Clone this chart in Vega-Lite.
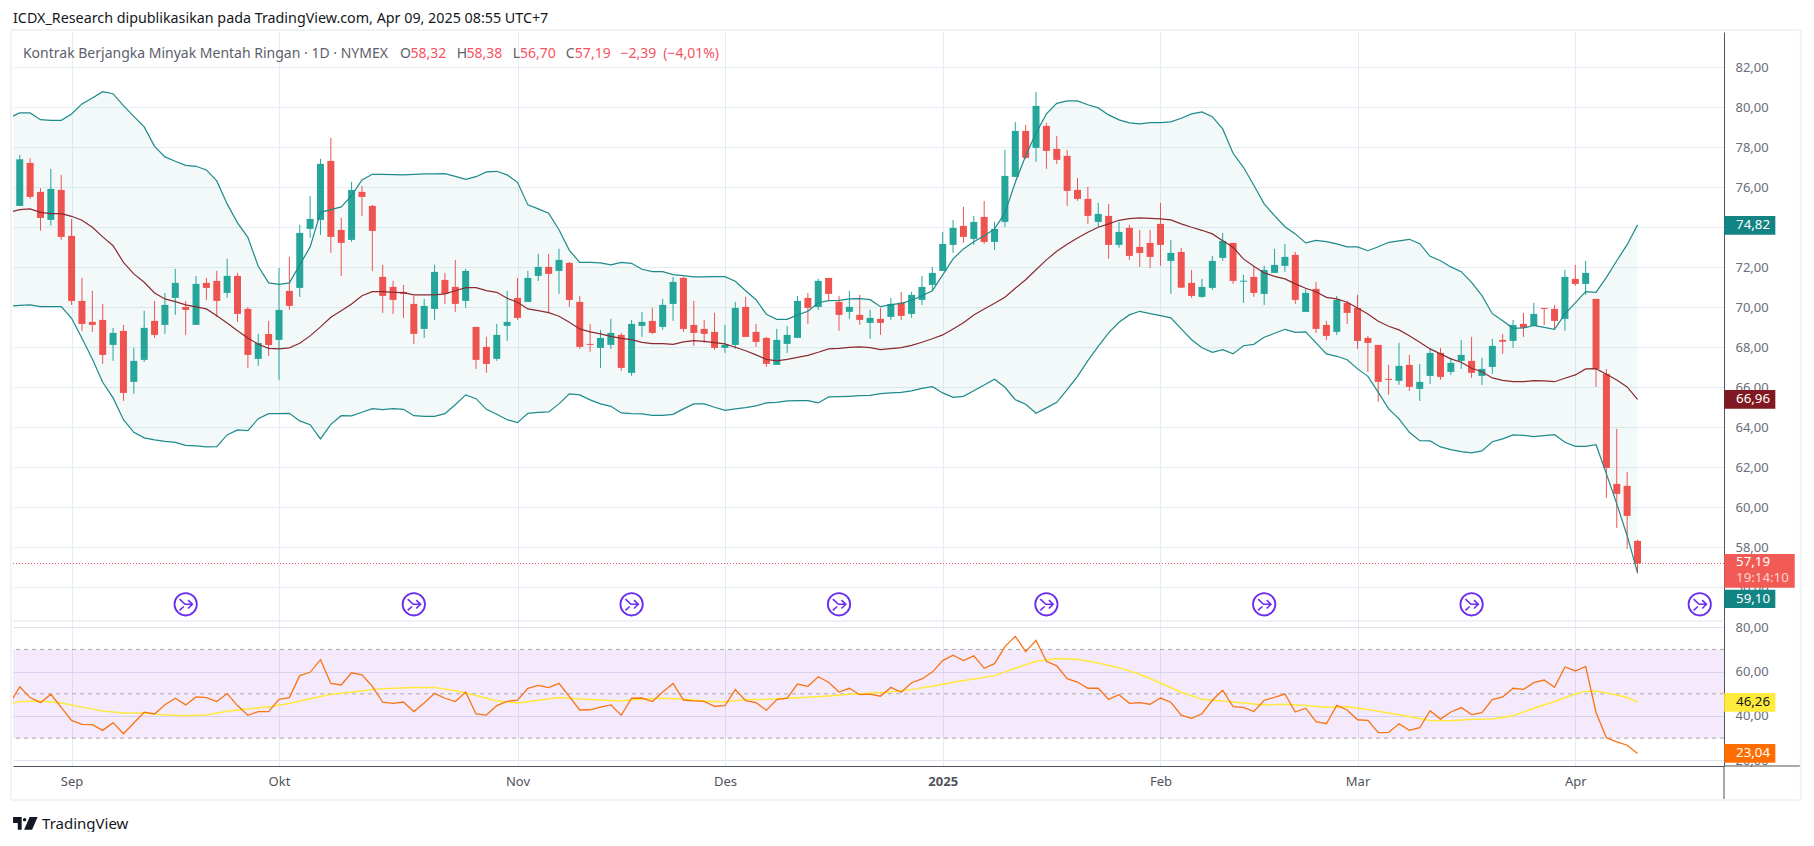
{"$schema":"https://vega.github.io/schema/vega-lite/v6.json","background":"#ffffff","padding":{"left":9,"top":11,"right":0,"bottom":0},"bounds":"flush","spacing":0,"config":{"view":{"stroke":null},"font":"Noto Sans","scale":{"continuousPadding":0}},
"datasets":{
"bars":[{"i":1,"o":75.07,"h":77.62,"l":75.07,"c":77.40,"d":"u"},{"i":2,"o":77.22,"h":77.45,"l":75.42,"c":75.52,"d":"d"},{"i":3,"o":75.77,"h":75.95,"l":73.83,"c":74.47,"d":"d"},{"i":4,"o":74.37,"h":76.92,"l":74.08,"c":75.92,"d":"u"},{"i":5,"o":75.87,"h":76.62,"l":73.37,"c":73.52,"d":"d"},{"i":6,"o":73.57,"h":74.42,"l":70.12,"c":70.32,"d":"d"},{"i":7,"o":70.32,"h":71.47,"l":68.82,"c":69.17,"d":"d"},{"i":8,"o":69.27,"h":70.82,"l":68.77,"c":69.12,"d":"d"},{"i":9,"o":69.37,"h":70.17,"l":67.17,"c":67.62,"d":"d"},{"i":10,"o":68.12,"h":68.97,"l":67.32,"c":68.72,"d":"u"},{"i":11,"o":68.82,"h":69.12,"l":65.32,"c":65.72,"d":"d"},{"i":12,"o":66.27,"h":67.97,"l":65.67,"c":67.32,"d":"u"},{"i":13,"o":67.37,"h":69.82,"l":67.27,"c":68.97,"d":"u"},{"i":14,"o":69.32,"h":70.32,"l":68.47,"c":68.62,"d":"d"},{"i":15,"o":69.12,"h":70.72,"l":68.67,"c":70.12,"d":"u"},{"i":16,"o":70.47,"h":71.92,"l":69.62,"c":71.22,"d":"u"},{"i":17,"o":70.02,"h":70.32,"l":68.62,"c":69.87,"d":"d"},{"i":18,"o":69.12,"h":71.57,"l":69.12,"c":71.17,"d":"u"},{"i":19,"o":71.22,"h":71.47,"l":70.37,"c":70.97,"d":"d"},{"i":20,"o":71.32,"h":71.82,"l":69.52,"c":70.32,"d":"d"},{"i":21,"o":70.72,"h":72.42,"l":70.47,"c":71.57,"d":"u"},{"i":22,"o":71.57,"h":71.72,"l":69.27,"c":69.67,"d":"d"},{"i":23,"o":69.92,"h":70.02,"l":66.97,"c":67.62,"d":"d"},{"i":24,"o":67.42,"h":68.67,"l":67.07,"c":68.22,"d":"u"},{"i":25,"o":68.67,"h":69.32,"l":67.57,"c":68.12,"d":"d"},{"i":26,"o":68.37,"h":71.97,"l":66.37,"c":69.87,"d":"u"},{"i":27,"o":70.82,"h":72.52,"l":69.87,"c":70.07,"d":"d"},{"i":28,"o":70.97,"h":74.12,"l":70.52,"c":73.72,"d":"u"},{"i":29,"o":73.92,"h":75.57,"l":73.47,"c":74.42,"d":"u"},{"i":30,"o":74.37,"h":77.42,"l":73.62,"c":77.17,"d":"u"},{"i":31,"o":77.32,"h":78.47,"l":72.72,"c":73.52,"d":"d"},{"i":32,"o":73.87,"h":74.47,"l":71.57,"c":73.22,"d":"d"},{"i":33,"o":73.37,"h":76.27,"l":73.27,"c":75.87,"d":"u"},{"i":34,"o":75.77,"h":76.07,"l":74.57,"c":75.52,"d":"d"},{"i":35,"o":75.07,"h":75.12,"l":71.82,"c":73.82,"d":"d"},{"i":36,"o":71.52,"h":72.12,"l":69.72,"c":70.57,"d":"d"},{"i":37,"o":71.02,"h":71.32,"l":69.67,"c":70.37,"d":"d"},{"i":38,"o":70.77,"h":71.12,"l":69.47,"c":70.67,"d":"d"},{"i":39,"o":70.17,"h":70.57,"l":68.17,"c":68.67,"d":"d"},{"i":40,"o":68.92,"h":70.42,"l":68.47,"c":70.07,"d":"u"},{"i":41,"o":69.92,"h":72.12,"l":69.37,"c":71.77,"d":"u"},{"i":42,"o":71.37,"h":71.72,"l":70.17,"c":70.67,"d":"d"},{"i":43,"o":71.02,"h":72.37,"l":69.77,"c":70.17,"d":"d"},{"i":44,"o":70.32,"h":71.92,"l":69.97,"c":71.82,"d":"u"},{"i":45,"o":69.02,"h":69.02,"l":66.92,"c":67.37,"d":"d"},{"i":46,"o":68.02,"h":68.52,"l":66.72,"c":67.17,"d":"d"},{"i":47,"o":67.42,"h":69.17,"l":67.32,"c":68.62,"d":"u"},{"i":48,"o":69.07,"h":70.82,"l":68.32,"c":69.27,"d":"u"},{"i":49,"o":70.47,"h":71.47,"l":69.37,"c":69.47,"d":"d"},{"i":50,"o":70.27,"h":71.82,"l":70.27,"c":71.47,"d":"u"},{"i":51,"o":71.57,"h":72.67,"l":71.32,"c":72.02,"d":"u"},{"i":52,"o":72.02,"h":72.67,"l":69.72,"c":71.67,"d":"d"},{"i":53,"o":71.82,"h":72.92,"l":70.67,"c":72.37,"d":"u"},{"i":54,"o":72.22,"h":72.27,"l":70.02,"c":70.37,"d":"d"},{"i":55,"o":70.27,"h":70.57,"l":67.92,"c":68.02,"d":"d"},{"i":56,"o":68.17,"h":69.17,"l":67.77,"c":68.12,"d":"d"},{"i":57,"o":67.97,"h":68.87,"l":66.97,"c":68.47,"d":"u"},{"i":58,"o":68.12,"h":69.42,"l":67.92,"c":68.72,"d":"u"},{"i":59,"o":68.62,"h":68.72,"l":66.82,"c":66.97,"d":"d"},{"i":60,"o":66.72,"h":69.37,"l":66.57,"c":69.17,"d":"u"},{"i":61,"o":69.07,"h":69.77,"l":68.52,"c":69.27,"d":"u"},{"i":62,"o":69.32,"h":69.97,"l":68.67,"c":68.72,"d":"d"},{"i":63,"o":69.02,"h":70.42,"l":68.87,"c":70.12,"d":"u"},{"i":64,"o":70.17,"h":71.52,"l":69.32,"c":71.27,"d":"u"},{"i":65,"o":71.47,"h":71.52,"l":68.77,"c":68.92,"d":"d"},{"i":66,"o":69.12,"h":70.32,"l":68.07,"c":68.72,"d":"d"},{"i":67,"o":68.92,"h":69.37,"l":68.22,"c":68.67,"d":"d"},{"i":68,"o":68.77,"h":69.72,"l":67.87,"c":67.97,"d":"d"},{"i":69,"o":67.97,"h":69.12,"l":67.72,"c":68.12,"d":"u"},{"i":70,"o":68.12,"h":70.27,"l":67.92,"c":69.97,"d":"u"},{"i":71,"o":70.02,"h":70.52,"l":68.52,"c":68.52,"d":"d"},{"i":72,"o":68.77,"h":69.17,"l":68.02,"c":68.27,"d":"d"},{"i":73,"o":68.47,"h":68.52,"l":67.02,"c":67.17,"d":"d"},{"i":74,"o":67.12,"h":68.92,"l":67.12,"c":68.37,"d":"u"},{"i":75,"o":68.17,"h":69.07,"l":67.72,"c":68.62,"d":"u"},{"i":76,"o":68.47,"h":70.57,"l":68.47,"c":70.32,"d":"u"},{"i":77,"o":70.47,"h":70.72,"l":69.17,"c":69.97,"d":"d"},{"i":78,"o":70.02,"h":71.42,"l":69.87,"c":71.32,"d":"u"},{"i":79,"o":71.47,"h":71.47,"l":70.37,"c":70.67,"d":"d"},{"i":80,"o":70.27,"h":70.57,"l":68.82,"c":69.62,"d":"d"},{"i":81,"o":69.77,"h":70.82,"l":69.42,"c":70.02,"d":"u"},{"i":82,"o":69.62,"h":70.62,"l":69.12,"c":69.37,"d":"d"},{"i":83,"o":69.22,"h":69.87,"l":68.42,"c":69.47,"d":"u"},{"i":84,"o":69.42,"h":69.97,"l":68.62,"c":69.22,"d":"d"},{"i":85,"o":69.52,"h":70.47,"l":69.37,"c":70.17,"d":"u"},{"i":86,"o":70.23,"h":70.77,"l":69.37,"c":69.57,"d":"d"},{"i":87,"o":69.67,"h":70.77,"l":69.47,"c":70.62,"d":"u"},{"i":88,"o":70.37,"h":71.57,"l":70.12,"c":71.02,"d":"u"},{"i":89,"o":71.12,"h":72.02,"l":70.87,"c":71.72,"d":"u"},{"i":90,"o":71.82,"h":73.77,"l":71.82,"c":73.17,"d":"u"},{"i":91,"o":73.12,"h":74.37,"l":72.72,"c":73.97,"d":"u"},{"i":92,"o":74.07,"h":75.02,"l":73.22,"c":73.52,"d":"d"},{"i":93,"o":73.42,"h":74.57,"l":73.12,"c":74.27,"d":"u"},{"i":94,"o":74.52,"h":75.32,"l":73.17,"c":73.27,"d":"d"},{"i":95,"o":73.27,"h":74.27,"l":72.87,"c":73.92,"d":"u"},{"i":96,"o":74.27,"h":77.87,"l":74.02,"c":76.57,"d":"u"},{"i":97,"o":76.52,"h":79.27,"l":76.52,"c":78.82,"d":"u"},{"i":98,"o":78.82,"h":79.12,"l":77.42,"c":77.47,"d":"d"},{"i":99,"o":77.97,"h":80.77,"l":77.27,"c":80.07,"d":"u"},{"i":100,"o":79.07,"h":79.22,"l":76.92,"c":77.82,"d":"d"},{"i":101,"o":77.92,"h":78.57,"l":77.17,"c":77.37,"d":"d"},{"i":102,"o":77.57,"h":77.87,"l":75.07,"c":75.82,"d":"d"},{"i":103,"o":75.87,"h":76.47,"l":75.32,"c":75.42,"d":"d"},{"i":104,"o":75.42,"h":76.02,"l":74.17,"c":74.57,"d":"d"},{"i":105,"o":74.27,"h":75.22,"l":74.02,"c":74.67,"d":"u"},{"i":106,"o":74.57,"h":75.17,"l":72.42,"c":73.12,"d":"d"},{"i":107,"o":73.12,"h":74.27,"l":72.97,"c":73.77,"d":"u"},{"i":108,"o":73.97,"h":74.12,"l":72.37,"c":72.57,"d":"d"},{"i":109,"o":73.02,"h":73.87,"l":72.02,"c":72.72,"d":"d"},{"i":110,"o":73.22,"h":73.87,"l":71.97,"c":72.52,"d":"d"},{"i":111,"o":74.17,"h":75.22,"l":72.07,"c":73.12,"d":"d"},{"i":112,"o":72.32,"h":73.37,"l":70.67,"c":72.72,"d":"u"},{"i":113,"o":72.77,"h":72.97,"l":70.97,"c":70.98,"d":"d"},{"i":114,"o":71.22,"h":71.87,"l":70.47,"c":70.57,"d":"d"},{"i":115,"o":70.52,"h":71.42,"l":70.47,"c":71.02,"d":"u"},{"i":116,"o":70.97,"h":72.57,"l":70.87,"c":72.32,"d":"u"},{"i":117,"o":72.47,"h":73.72,"l":72.32,"c":73.32,"d":"u"},{"i":118,"o":73.22,"h":73.22,"l":71.17,"c":71.32,"d":"d"},{"i":119,"o":71.28,"h":71.62,"l":70.22,"c":71.33,"d":"u"},{"i":120,"o":71.52,"h":72.02,"l":70.52,"c":70.72,"d":"d"},{"i":121,"o":70.67,"h":72.07,"l":70.12,"c":71.87,"d":"u"},{"i":122,"o":71.72,"h":72.92,"l":71.72,"c":72.12,"d":"u"},{"i":123,"o":72.07,"h":73.17,"l":71.77,"c":72.52,"d":"u"},{"i":124,"o":72.62,"h":72.77,"l":70.17,"c":70.37,"d":"d"},{"i":125,"o":69.77,"h":70.92,"l":69.77,"c":70.72,"d":"u"},{"i":126,"o":70.92,"h":71.27,"l":68.72,"c":68.92,"d":"d"},{"i":127,"o":69.12,"h":69.32,"l":68.37,"c":68.57,"d":"d"},{"i":128,"o":68.77,"h":70.57,"l":68.62,"c":70.37,"d":"u"},{"i":129,"o":70.22,"h":70.32,"l":69.17,"c":69.72,"d":"d"},{"i":130,"o":69.97,"h":70.62,"l":67.92,"c":68.32,"d":"d"},{"i":131,"o":68.47,"h":68.57,"l":66.77,"c":68.22,"d":"d"},{"i":132,"o":68.12,"h":68.12,"l":65.27,"c":66.27,"d":"d"},{"i":133,"o":66.42,"h":67.12,"l":65.62,"c":66.37,"d":"d"},{"i":134,"o":66.32,"h":68.22,"l":66.12,"c":67.07,"d":"u"},{"i":135,"o":67.12,"h":67.62,"l":65.82,"c":66.02,"d":"d"},{"i":136,"o":65.92,"h":67.17,"l":65.32,"c":66.27,"d":"u"},{"i":137,"o":66.57,"h":67.92,"l":66.17,"c":67.72,"d":"u"},{"i":138,"o":67.72,"h":67.97,"l":66.37,"c":66.52,"d":"d"},{"i":139,"o":66.77,"h":67.47,"l":66.62,"c":67.22,"d":"u"},{"i":140,"o":67.32,"h":68.37,"l":66.92,"c":67.62,"d":"u"},{"i":141,"o":67.32,"h":68.52,"l":66.47,"c":66.72,"d":"d"},{"i":142,"o":66.57,"h":67.47,"l":66.12,"c":66.92,"d":"u"},{"i":143,"o":67.02,"h":68.42,"l":66.67,"c":68.07,"d":"u"},{"i":144,"o":68.37,"h":68.67,"l":67.67,"c":68.28,"d":"d"},{"i":145,"o":68.32,"h":69.37,"l":67.97,"c":69.12,"d":"u"},{"i":146,"o":69.17,"h":69.72,"l":68.52,"c":68.97,"d":"d"},{"i":147,"o":69.07,"h":70.22,"l":69.07,"c":69.67,"d":"u"},{"i":148,"o":69.97,"h":69.97,"l":69.12,"c":69.92,"d":"d"},{"i":149,"o":69.92,"h":70.12,"l":68.92,"c":69.32,"d":"d"},{"i":150,"o":69.42,"h":71.87,"l":68.82,"c":71.52,"d":"u"},{"i":151,"o":71.42,"h":72.12,"l":71.07,"c":71.17,"d":"d"},{"i":152,"o":71.17,"h":72.32,"l":70.62,"c":71.72,"d":"u"},{"i":153,"o":70.42,"h":70.42,"l":66.02,"c":66.92,"d":"d"},{"i":154,"o":66.67,"h":66.92,"l":60.47,"c":61.97,"d":"d"},{"i":155,"o":61.17,"h":63.92,"l":58.97,"c":60.67,"d":"d"},{"i":156,"o":61.07,"h":61.77,"l":57.92,"c":59.57,"d":"d"},{"i":157,"o":58.32,"h":58.38,"l":56.70,"c":57.19,"d":"d"}],
"bb":[{"i":0,"u":79.48,"b":74.75,"lo":70.05},{"i":1,"u":79.72,"b":74.88,"lo":70.1},{"i":2,"u":79.72,"b":74.92,"lo":70.12},{"i":3,"u":79.38,"b":74.75,"lo":70.03},{"i":4,"u":79.35,"b":74.68,"lo":70.03},{"i":5,"u":79.35,"b":74.68,"lo":70.03},{"i":6,"u":79.67,"b":74.55,"lo":69.45},{"i":7,"u":80.17,"b":74.35,"lo":68.45},{"i":8,"u":80.47,"b":74.0,"lo":67.42},{"i":9,"u":80.78,"b":73.52,"lo":66.25},{"i":10,"u":80.68,"b":73.08,"lo":65.47},{"i":11,"u":80.08,"b":72.25,"lo":64.38},{"i":12,"u":79.55,"b":71.67,"lo":63.75},{"i":13,"u":79.02,"b":71.25,"lo":63.47},{"i":14,"u":78.05,"b":70.72,"lo":63.37},{"i":15,"u":77.52,"b":70.42,"lo":63.3},{"i":16,"u":77.3,"b":70.28,"lo":63.25},{"i":17,"u":77.1,"b":70.12,"lo":63.1},{"i":18,"u":77.05,"b":70.02,"lo":63.07},{"i":19,"u":76.87,"b":69.92,"lo":63.02},{"i":20,"u":76.32,"b":69.58,"lo":63.03},{"i":21,"u":75.17,"b":69.22,"lo":63.62},{"i":22,"u":74.22,"b":68.83,"lo":63.87},{"i":23,"u":73.5,"b":68.47,"lo":63.83},{"i":24,"u":72.05,"b":68.15,"lo":64.43},{"i":25,"u":71.22,"b":67.95,"lo":64.68},{"i":26,"u":71.15,"b":67.92,"lo":64.68},{"i":27,"u":71.22,"b":67.97,"lo":64.7},{"i":28,"u":72.12,"b":68.2,"lo":64.32},{"i":29,"u":73.02,"b":68.57,"lo":64.13},{"i":30,"u":74.75,"b":69.02,"lo":63.42},{"i":31,"u":74.88,"b":69.5,"lo":64.15},{"i":32,"u":75.02,"b":69.83,"lo":64.58},{"i":33,"u":75.58,"b":70.17,"lo":64.57},{"i":34,"u":76.37,"b":70.58,"lo":64.75},{"i":35,"u":76.65,"b":70.78,"lo":64.93},{"i":36,"u":76.65,"b":70.78,"lo":64.88},{"i":37,"u":76.63,"b":70.75,"lo":64.93},{"i":38,"u":76.62,"b":70.73,"lo":64.9},{"i":39,"u":76.65,"b":70.62,"lo":64.58},{"i":40,"u":76.67,"b":70.62,"lo":64.55},{"i":41,"u":76.67,"b":70.62,"lo":64.55},{"i":42,"u":76.68,"b":70.67,"lo":64.68},{"i":43,"u":76.55,"b":70.83,"lo":65.13},{"i":44,"u":76.4,"b":70.98,"lo":65.62},{"i":45,"u":76.53,"b":70.98,"lo":65.43},{"i":46,"u":76.77,"b":70.83,"lo":64.9},{"i":47,"u":76.8,"b":70.75,"lo":64.65},{"i":48,"u":76.62,"b":70.45,"lo":64.38},{"i":49,"u":76.25,"b":70.25,"lo":64.23},{"i":50,"u":75.12,"b":69.92,"lo":64.7},{"i":51,"u":74.92,"b":69.83,"lo":64.75},{"i":52,"u":74.7,"b":69.73,"lo":64.77},{"i":53,"u":73.88,"b":69.55,"lo":65.17},{"i":54,"u":72.85,"b":69.25,"lo":65.67},{"i":55,"u":72.25,"b":68.92,"lo":65.62},{"i":56,"u":72.25,"b":68.77,"lo":65.37},{"i":57,"u":72.22,"b":68.67,"lo":65.17},{"i":58,"u":72.12,"b":68.55,"lo":65.05},{"i":59,"u":72.25,"b":68.45,"lo":64.72},{"i":60,"u":72.2,"b":68.38,"lo":64.68},{"i":61,"u":71.9,"b":68.25,"lo":64.67},{"i":62,"u":71.78,"b":68.18,"lo":64.6},{"i":63,"u":71.78,"b":68.18,"lo":64.6},{"i":64,"u":71.63,"b":68.15,"lo":64.65},{"i":65,"u":71.58,"b":68.27,"lo":64.92},{"i":66,"u":71.52,"b":68.33,"lo":65.17},{"i":67,"u":71.52,"b":68.3,"lo":65.17},{"i":68,"u":71.53,"b":68.23,"lo":65.0},{"i":69,"u":71.53,"b":68.17,"lo":64.85},{"i":70,"u":71.3,"b":68.0,"lo":64.92},{"i":71,"u":70.83,"b":67.83,"lo":64.98},{"i":72,"u":70.38,"b":67.62,"lo":65.07},{"i":73,"u":69.65,"b":67.4,"lo":65.22},{"i":74,"u":69.4,"b":67.32,"lo":65.25},{"i":75,"u":69.4,"b":67.4,"lo":65.32},{"i":76,"u":69.62,"b":67.5,"lo":65.33},{"i":77,"u":69.8,"b":67.6,"lo":65.33},{"i":78,"u":70.23,"b":67.75,"lo":65.22},{"i":79,"u":70.33,"b":67.92,"lo":65.52},{"i":80,"u":70.35,"b":67.95,"lo":65.53},{"i":81,"u":70.42,"b":68.0,"lo":65.55},{"i":82,"u":70.43,"b":68.02,"lo":65.58},{"i":83,"u":70.38,"b":67.98,"lo":65.6},{"i":84,"u":70.03,"b":67.88,"lo":65.68},{"i":85,"u":70.13,"b":67.93,"lo":65.72},{"i":86,"u":70.2,"b":67.98,"lo":65.75},{"i":87,"u":70.35,"b":68.1,"lo":65.82},{"i":88,"u":70.58,"b":68.25,"lo":65.95},{"i":89,"u":70.83,"b":68.43,"lo":66.03},{"i":90,"u":71.62,"b":68.62,"lo":65.72},{"i":91,"u":72.42,"b":68.92,"lo":65.5},{"i":92,"u":72.92,"b":69.23,"lo":65.55},{"i":93,"u":73.28,"b":69.62,"lo":65.83},{"i":94,"u":73.58,"b":69.92,"lo":66.12},{"i":95,"u":73.92,"b":70.2,"lo":66.4},{"i":96,"u":74.72,"b":70.5,"lo":66.0},{"i":97,"u":76.25,"b":70.95,"lo":65.38},{"i":98,"u":77.58,"b":71.38,"lo":65.15},{"i":99,"u":78.72,"b":71.88,"lo":64.7},{"i":100,"u":79.67,"b":72.37,"lo":64.97},{"i":101,"u":80.2,"b":72.8,"lo":65.25},{"i":102,"u":80.32,"b":73.15,"lo":65.88},{"i":103,"u":80.32,"b":73.47,"lo":66.55},{"i":104,"u":80.13,"b":73.75,"lo":67.33},{"i":105,"u":79.97,"b":74.0,"lo":68.05},{"i":106,"u":79.62,"b":74.17,"lo":68.72},{"i":107,"u":79.37,"b":74.35,"lo":69.25},{"i":108,"u":79.22,"b":74.43,"lo":69.62},{"i":109,"u":79.17,"b":74.47,"lo":69.8},{"i":110,"u":79.23,"b":74.45,"lo":69.68},{"i":111,"u":79.23,"b":74.42,"lo":69.58},{"i":112,"u":79.27,"b":74.37,"lo":69.47},{"i":113,"u":79.45,"b":74.17,"lo":68.92},{"i":114,"u":79.67,"b":74.0,"lo":68.38},{"i":115,"u":79.77,"b":73.85,"lo":67.98},{"i":116,"u":79.53,"b":73.67,"lo":67.75},{"i":117,"u":78.92,"b":73.33,"lo":67.88},{"i":118,"u":77.7,"b":73.0,"lo":67.67},{"i":119,"u":77.0,"b":72.42,"lo":68.08},{"i":120,"u":76.1,"b":72.05,"lo":68.15},{"i":121,"u":75.17,"b":71.72,"lo":68.5},{"i":122,"u":74.58,"b":71.55,"lo":68.7},{"i":123,"u":74.03,"b":71.42,"lo":68.9},{"i":124,"u":73.67,"b":71.17,"lo":68.75},{"i":125,"u":73.22,"b":70.95,"lo":68.77},{"i":126,"u":73.35,"b":70.78,"lo":68.22},{"i":127,"u":73.28,"b":70.5,"lo":67.67},{"i":128,"u":73.17,"b":70.42,"lo":67.55},{"i":129,"u":73.02,"b":70.25,"lo":67.38},{"i":130,"u":73.02,"b":69.97,"lo":66.92},{"i":131,"u":72.83,"b":69.67,"lo":66.55},{"i":132,"u":73.03,"b":69.3,"lo":65.75},{"i":133,"u":73.25,"b":69.05,"lo":64.92},{"i":134,"u":73.32,"b":68.87,"lo":64.42},{"i":135,"u":73.4,"b":68.58,"lo":63.75},{"i":136,"u":73.18,"b":68.25,"lo":63.33},{"i":137,"u":72.55,"b":67.92,"lo":63.32},{"i":138,"u":72.33,"b":67.67,"lo":63.02},{"i":139,"u":72.02,"b":67.42,"lo":62.88},{"i":140,"u":71.78,"b":67.25,"lo":62.78},{"i":141,"u":71.25,"b":66.95,"lo":62.72},{"i":142,"u":70.58,"b":66.78,"lo":62.82},{"i":143,"u":69.68,"b":66.47,"lo":63.28},{"i":144,"u":69.33,"b":66.35,"lo":63.42},{"i":145,"u":68.95,"b":66.28,"lo":63.62},{"i":146,"u":68.97,"b":66.28,"lo":63.6},{"i":147,"u":69.1,"b":66.33,"lo":63.53},{"i":148,"u":69.0,"b":66.32,"lo":63.58},{"i":149,"u":68.9,"b":66.28,"lo":63.63},{"i":150,"u":69.67,"b":66.45,"lo":63.25},{"i":151,"u":70.22,"b":66.62,"lo":63.05},{"i":152,"u":70.78,"b":66.92,"lo":63.05},{"i":153,"u":70.75,"b":66.93,"lo":63.13},{"i":154,"u":71.5,"b":66.65,"lo":61.67},{"i":155,"u":72.33,"b":66.37,"lo":60.17},{"i":156,"u":73.13,"b":66.02,"lo":58.58},{"i":157,"u":74.12,"b":65.4,"lo":56.72}],
"rsi":[{"i":0,"v":45.4},{"i":1,"v":53.2},{"i":2,"v":48.3},{"i":3,"v":46.0},{"i":4,"v":49.8},{"i":5,"v":43.9},{"i":6,"v":38.0},{"i":7,"v":36.2},{"i":8,"v":36.1},{"i":9,"v":33.5},{"i":10,"v":37.0},{"i":11,"v":32.0},{"i":12,"v":36.8},{"i":13,"v":41.7},{"i":14,"v":40.9},{"i":15,"v":45.1},{"i":16,"v":48.0},{"i":17,"v":45.0},{"i":18,"v":48.6},{"i":19,"v":48.3},{"i":20,"v":46.5},{"i":21,"v":50.1},{"i":22,"v":44.7},{"i":23,"v":40.3},{"i":24,"v":42.0},{"i":25,"v":42.0},{"i":26,"v":47.5},{"i":27,"v":48.3},{"i":28,"v":58.2},{"i":29,"v":59.7},{"i":30,"v":65.4},{"i":31,"v":54.7},{"i":32,"v":54.0},{"i":33,"v":59.5},{"i":34,"v":58.6},{"i":35,"v":53.4},{"i":36,"v":46.2},{"i":37,"v":45.7},{"i":38,"v":46.3},{"i":39,"v":42.0},{"i":40,"v":45.9},{"i":41,"v":50.2},{"i":42,"v":48.0},{"i":43,"v":46.5},{"i":44,"v":50.8},{"i":45,"v":40.9},{"i":46,"v":40.4},{"i":47,"v":44.7},{"i":48,"v":46.6},{"i":49,"v":47.1},{"i":50,"v":52.5},{"i":51,"v":53.8},{"i":52,"v":52.8},{"i":53,"v":54.7},{"i":54,"v":48.7},{"i":55,"v":42.7},{"i":56,"v":42.8},{"i":57,"v":44.0},{"i":58,"v":45.0},{"i":59,"v":40.3},{"i":60,"v":48.0},{"i":61,"v":48.1},{"i":62,"v":46.5},{"i":63,"v":50.8},{"i":64,"v":54.7},{"i":65,"v":47.2},{"i":66,"v":46.8},{"i":67,"v":46.6},{"i":68,"v":44.4},{"i":69,"v":44.7},{"i":70,"v":51.9},{"i":71,"v":46.9},{"i":72,"v":46.0},{"i":73,"v":42.6},{"i":74,"v":47.4},{"i":75,"v":48.1},{"i":76,"v":54.4},{"i":77,"v":53.4},{"i":78,"v":57.7},{"i":79,"v":55.2},{"i":80,"v":50.8},{"i":81,"v":52.5},{"i":82,"v":49.6},{"i":83,"v":49.9},{"i":84,"v":48.9},{"i":85,"v":52.9},{"i":86,"v":50.7},{"i":87,"v":55.0},{"i":88,"v":56.7},{"i":89,"v":59.8},{"i":90,"v":65.0},{"i":91,"v":67.4},{"i":92,"v":65.0},{"i":93,"v":67.1},{"i":94,"v":61.5},{"i":95,"v":63.6},{"i":96,"v":71.3},{"i":97,"v":75.9},{"i":98,"v":69.0},{"i":99,"v":74.1},{"i":100,"v":64.7},{"i":101,"v":62.6},{"i":102,"v":56.8},{"i":103,"v":55.3},{"i":104,"v":52.5},{"i":105,"v":52.5},{"i":106,"v":47.5},{"i":107,"v":49.6},{"i":108,"v":45.7},{"i":109,"v":46.0},{"i":110,"v":45.3},{"i":111,"v":48.1},{"i":112,"v":46.2},{"i":113,"v":40.4},{"i":114,"v":38.9},{"i":115,"v":41.0},{"i":116,"v":47.1},{"i":117,"v":51.6},{"i":118,"v":44.2},{"i":119,"v":43.9},{"i":120,"v":42.0},{"i":121,"v":47.1},{"i":122,"v":48.4},{"i":123,"v":49.9},{"i":124,"v":41.8},{"i":125,"v":43.5},{"i":126,"v":37.4},{"i":127,"v":36.5},{"i":128,"v":44.8},{"i":129,"v":42.7},{"i":130,"v":38.3},{"i":131,"v":38.0},{"i":132,"v":32.5},{"i":133,"v":32.6},{"i":134,"v":36.5},{"i":135,"v":33.5},{"i":136,"v":34.7},{"i":137,"v":42.4},{"i":138,"v":38.6},{"i":139,"v":41.8},{"i":140,"v":43.8},{"i":141,"v":40.6},{"i":142,"v":41.5},{"i":143,"v":47.4},{"i":144,"v":48.6},{"i":145,"v":52.5},{"i":146,"v":52.0},{"i":147,"v":55.0},{"i":148,"v":56.2},{"i":149,"v":52.9},{"i":150,"v":62.1},{"i":151,"v":60.3},{"i":152,"v":62.4},{"i":153,"v":41.6},{"i":154,"v":30.2},{"i":155,"v":28.3},{"i":156,"v":26.8},{"i":157,"v":23.04}],
"rsima":[{"i":0,"v":45.5},{"i":1,"v":46.5},{"i":3,"v":46.8},{"i":5,"v":45.9},{"i":7,"v":44.0},{"i":9,"v":42.2},{"i":11,"v":41.3},{"i":13,"v":41.3},{"i":15,"v":40.4},{"i":17,"v":40.1},{"i":19,"v":40.4},{"i":21,"v":42.1},{"i":23,"v":43.2},{"i":25,"v":44.2},{"i":27,"v":45.6},{"i":29,"v":47.8},{"i":31,"v":49.8},{"i":33,"v":50.7},{"i":35,"v":52.0},{"i":37,"v":52.5},{"i":39,"v":52.9},{"i":41,"v":52.9},{"i":43,"v":51.4},{"i":45,"v":49.2},{"i":47,"v":46.8},{"i":49,"v":45.9},{"i":51,"v":47.1},{"i":53,"v":48.3},{"i":55,"v":47.7},{"i":57,"v":47.2},{"i":59,"v":46.8},{"i":61,"v":47.7},{"i":63,"v":48.0},{"i":65,"v":47.7},{"i":67,"v":46.8},{"i":69,"v":46.3},{"i":71,"v":47.4},{"i":73,"v":47.5},{"i":75,"v":48.0},{"i":77,"v":48.4},{"i":79,"v":49.0},{"i":81,"v":49.8},{"i":83,"v":50.2},{"i":85,"v":50.8},{"i":87,"v":52.0},{"i":89,"v":53.4},{"i":91,"v":55.2},{"i":93,"v":56.7},{"i":95,"v":58.2},{"i":97,"v":61.5},{"i":99,"v":64.7},{"i":101,"v":65.9},{"i":103,"v":65.6},{"i":105,"v":63.9},{"i":107,"v":61.8},{"i":109,"v":58.8},{"i":111,"v":54.9},{"i":113,"v":50.7},{"i":115,"v":47.5},{"i":117,"v":46.8},{"i":119,"v":45.9},{"i":121,"v":45.0},{"i":123,"v":45.3},{"i":125,"v":44.7},{"i":127,"v":43.9},{"i":129,"v":44.2},{"i":131,"v":42.9},{"i":133,"v":41.3},{"i":135,"v":39.8},{"i":137,"v":38.0},{"i":139,"v":37.9},{"i":141,"v":38.5},{"i":143,"v":38.6},{"i":145,"v":40.1},{"i":147,"v":43.5},{"i":149,"v":46.5},{"i":151,"v":49.9},{"i":152,"v":51.1},{"i":153,"v":51.3},{"i":155,"v":49.5},{"i":156,"v":48.3},{"i":157,"v":46.26}],
"legend":[{"i":0.35,"p":84.42,"t":"ICDX_Research dipublikasikan pada TradingView.com, Apr 09, 2025 08:55 UTC+7","k":"title"},{"i":1.31,"p":82.66,"t":"Kontrak Berjangka Minyak Mentah Ringan · 1D · NYMEX","k":"gray"},{"i":37.66,"p":82.66,"t":"O","k":"gray"},{"i":38.69,"p":82.66,"t":"58,32","k":"red"},{"i":43.13,"p":82.66,"t":"H","k":"gray"},{"i":44.09,"p":82.66,"t":"58,38","k":"red"},{"i":48.53,"p":82.66,"t":"L","k":"gray"},{"i":49.23,"p":82.66,"t":"56,70","k":"red"},{"i":53.64,"p":82.66,"t":"C","k":"gray"},{"i":54.53,"p":82.66,"t":"57,19","k":"red"},{"i":58.94,"p":82.66,"t":"−2,39","k":"red"},{"i":63.05,"p":82.66,"t":"(−4,01%)","k":"red"}],
"icons":[{"i":17,"p":55.15},{"i":39,"p":55.15},{"i":60,"p":55.15},{"i":80,"p":55.15},{"i":100,"p":55.15},{"i":121,"p":55.15},{"i":141,"p":55.15},{"i":163,"p":55.15}],
"tagsMain":[{"t":"74,82","v":74.1,"a":74.57,"z":73.63,"s":"teal"},{"t":"66,96","v":65.4,"a":65.87,"z":64.93,"s":"maroon"},{"t":"59,10","v":55.42,"a":55.88,"z":54.97,"s":"teal"}],
"tagClose":[{"a":57.67,"z":55.98}],
"tagCloseText":[{"t":"57,19","v":57.25,"k":"white"},{"t":"19:14:10","v":56.46,"k":"pale"}],
"tagsRsi":[{"t":"46,26","v":46.17,"a":50.36,"z":41.93,"s":"yellow"},{"t":"23,04","v":23.17,"a":27.36,"z":18.93,"s":"orange"}],
"levels":[{"v":70},{"v":50},{"v":30}]
},
"vconcat":[
{"width":1711,"height":589,"layer":[
{"data":{"name":"bb"},"mark":{"type":"area","clip":true,"color":"#138484","opacity":0.05},"encoding":{"x":{"field":"i","type":"quantitative","scale":{"domain":[0.35,165.34],"nice":false,"zero":false},"title":null,"axis":{"values":[6,26,49,69,90,111,130,151],"grid":true,"gridColor":"#e4edf4","labels":false,"ticks":false,"domain":false,"title":null}},"y":{"field":"u","type":"quantitative","scale":{"domain":[54.315,83.765],"nice":false,"zero":false},"axis":{"orient":"right","values":[56,58,60,62,64,66,68,70,72,74,76,78,80,82],"labelExpr":"replace(format(datum.value,'.2f'),'.',',')","grid":true,"gridColor":"#e4edf4","ticks":false,"domain":true,"domainColor":"#50535e","labelPadding":11,"labelFontSize":13,"labelColor":"#6a6d78","labelFont":"Noto Sans","title":null}},"y2":{"field":"lo"}}},
{"data":{"values":[{"v":57.19}]},"mark":{"type":"rule","color":"#f7525f","strokeDash":[1,2],"strokeWidth":1},"encoding":{"y":{"field":"v","type":"quantitative","scale":{"domain":[54.315,83.765],"nice":false,"zero":false}}}},
{"data":{"name":"bars"},"mark":{"type":"rule","strokeWidth":1},"encoding":{"x":{"field":"i","type":"quantitative","scale":{"domain":[0.35,165.34],"nice":false,"zero":false}},"y":{"field":"l","type":"quantitative","scale":{"domain":[54.315,83.765],"nice":false,"zero":false}},"y2":{"field":"h"},"color":{"condition":{"test":"datum.d=='u'","value":"#26a69a"},"value":"#ef5350"}}},
{"data":{"name":"bars"},"mark":{"type":"bar","size":7},"encoding":{"x":{"field":"i","type":"quantitative","scale":{"domain":[0.35,165.34],"nice":false,"zero":false}},"y":{"field":"o","type":"quantitative","scale":{"domain":[54.315,83.765],"nice":false,"zero":false}},"y2":{"field":"c"},"color":{"condition":{"test":"datum.d=='u'","value":"#26a69a"},"value":"#ef5350"}}},
{"data":{"name":"bb"},"mark":{"type":"line","clip":true,"color":"#1f8a8a","strokeWidth":1.2},"encoding":{"x":{"field":"i","type":"quantitative","scale":{"domain":[0.35,165.34],"nice":false,"zero":false}},"y":{"field":"u","type":"quantitative","scale":{"domain":[54.315,83.765],"nice":false,"zero":false}}}},
{"data":{"name":"bb"},"mark":{"type":"line","clip":true,"color":"#1f8a8a","strokeWidth":1.2},"encoding":{"x":{"field":"i","type":"quantitative","scale":{"domain":[0.35,165.34],"nice":false,"zero":false}},"y":{"field":"lo","type":"quantitative","scale":{"domain":[54.315,83.765],"nice":false,"zero":false}}}},
{"data":{"name":"bb"},"mark":{"type":"line","clip":true,"color":"#8a2b30","strokeWidth":1.2},"encoding":{"x":{"field":"i","type":"quantitative","scale":{"domain":[0.35,165.34],"nice":false,"zero":false}},"y":{"field":"b","type":"quantitative","scale":{"domain":[54.315,83.765],"nice":false,"zero":false}}}},
{"data":{"name":"icons"},"mark":{"type":"point","shape":"circle","size":500,"filled":false,"color":"#6a2cf0","strokeWidth":1.8,"opacity":1},"encoding":{"x":{"field":"i","type":"quantitative","scale":{"domain":[0.35,165.34],"nice":false,"zero":false}},"y":{"field":"p","type":"quantitative","scale":{"domain":[54.315,83.765],"nice":false,"zero":false}}}},
{"data":{"name":"icons"},"mark":{"type":"point","shape":"M-0.5,-0.42 L-0.05,0 L0.55,0 M0.2,-0.34 L0.55,0 L0.2,0.34 M-0.5,0.5 L-0.15,0.18","size":600,"filled":false,"color":"#6a2cf0","strokeWidth":1.6,"opacity":1},"encoding":{"x":{"field":"i","type":"quantitative","scale":{"domain":[0.35,165.34],"nice":false,"zero":false}},"y":{"field":"p","type":"quantitative","scale":{"domain":[54.315,83.765],"nice":false,"zero":false}}}},
{"data":{"name":"legend"},"mark":{"type":"text","align":"left","baseline":"middle","font":"Noto Sans"},"encoding":{"x":{"field":"i","type":"quantitative","scale":{"domain":[0.35,165.34],"nice":false,"zero":false}},"y":{"field":"p","type":"quantitative","scale":{"domain":[54.315,83.765],"nice":false,"zero":false}},"text":{"field":"t"},"size":{"condition":{"test":"datum.k=='title'","value":14.3},"value":14},"color":{"condition":[{"test":"datum.k=='title'","value":"#131722"},{"test":"datum.k=='red'","value":"#f7525f"}],"value":"#5d606b"}}},
{"data":{"name":"tagsMain"},"mark":{"type":"rect"},"encoding":{"x":{"datum":165.36,"type":"quantitative","scale":{"domain":[0.35,165.34],"nice":false,"zero":false}},"x2":{"datum":170.29},"y":{"field":"a","type":"quantitative","scale":{"domain":[54.315,83.765],"nice":false,"zero":false}},"y2":{"field":"z"},"color":{"condition":{"test":"datum.s=='teal'","value":"#138484"},"value":"#801922"}}},
{"data":{"name":"tagClose"},"mark":{"type":"rect","color":"#f15a55"},"encoding":{"x":{"datum":165.36,"type":"quantitative","scale":{"domain":[0.35,165.34],"nice":false,"zero":false}},"x2":{"datum":172.16},"y":{"field":"a","type":"quantitative","scale":{"domain":[54.315,83.765],"nice":false,"zero":false}},"y2":{"field":"z"}}},
{"data":{"name":"tagsMain"},"mark":{"type":"text","align":"left","baseline":"middle","font":"Noto Sans","fontSize":13.3,"color":"#ffffff"},"encoding":{"x":{"datum":166.5,"type":"quantitative","scale":{"domain":[0.35,165.34],"nice":false,"zero":false}},"y":{"field":"v","type":"quantitative","scale":{"domain":[54.315,83.765],"nice":false,"zero":false}},"text":{"field":"t"}}},
{"data":{"name":"tagCloseText"},"mark":{"type":"text","align":"left","baseline":"middle","font":"Noto Sans","fontSize":13.3},"encoding":{"x":{"datum":166.5,"type":"quantitative","scale":{"domain":[0.35,165.34],"nice":false,"zero":false}},"y":{"field":"v","type":"quantitative","scale":{"domain":[54.315,83.765],"nice":false,"zero":false}},"text":{"field":"t"},"color":{"condition":{"test":"datum.k=='white'","value":"#ffffff"},"value":"#fcd5d3"}}},
{"data":{"values":[{}]},"mark":{"type":"rule","color":"#f2f3f5","strokeWidth":2},"encoding":{"x":{"datum":0.15,"type":"quantitative","scale":{"domain":[0.35,165.34],"nice":false,"zero":false}},"x2":{"datum":172.74},"y":{"datum":83.86,"type":"quantitative","scale":{"domain":[54.315,83.765],"nice":false,"zero":false}}}},
{"data":{"values":[{}]},"mark":{"type":"rule","color":"#f2f3f5","strokeWidth":2},"encoding":{"x":{"datum":0.15,"type":"quantitative","scale":{"domain":[0.35,165.34],"nice":false,"zero":false}},"y":{"datum":83.86,"type":"quantitative","scale":{"domain":[54.315,83.765],"nice":false,"zero":false}},"y2":{"datum":54.315}}},
{"data":{"values":[{}]},"mark":{"type":"rule","color":"#f2f3f5","strokeWidth":2},"encoding":{"x":{"datum":172.74,"type":"quantitative","scale":{"domain":[0.35,165.34],"nice":false,"zero":false}},"y":{"datum":83.86,"type":"quantitative","scale":{"domain":[54.315,83.765],"nice":false,"zero":false}},"y2":{"datum":54.315}}}
]},
{"width":1711,"height":145,"layer":[
{"data":{"values":[{"a":70,"z":30}]},"mark":{"type":"rect","color":"#9c27e0","opacity":0.1},"encoding":{"x":{"datum":0.35,"type":"quantitative","scale":{"domain":[0.35,165.34],"nice":false,"zero":false},"axis":{"values":[6,26,49,69,90,111,130,151],"labelExpr":"datum.value==6?'Sep':datum.value==26?'Okt':datum.value==49?'Nov':datum.value==69?'Des':datum.value==90?'2025':datum.value==111?'Feb':datum.value==130?'Mar':'Apr'","labelFontWeight":{"condition":{"test":"datum.value==90","value":"bold"},"value":"normal"},"grid":true,"gridColor":"#e4edf4","ticks":false,"domain":true,"domainColor":"#50535e","labelPadding":9,"labelFontSize":13,"labelColor":"#50535e","labelFont":"Noto Sans","title":null}},"x2":{"datum":165.34},"y":{"field":"a","type":"quantitative","scale":{"domain":[17.44,82.84],"nice":false,"zero":false},"axis":{"orient":"right","values":[20,40,60,80],"labelExpr":"replace(format(datum.value,'.2f'),'.',',')","grid":true,"gridColor":"#dfe5ef","ticks":false,"domain":true,"domainColor":"#50535e","labelPadding":11,"labelFontSize":13,"labelColor":"#6a6d78","labelFont":"Noto Sans","title":null}},"y2":{"field":"z"}}},
{"data":{"name":"levels"},"mark":{"type":"rule","color":"#a8a8b0","strokeDash":[4,4],"strokeWidth":1},"encoding":{"y":{"field":"v","type":"quantitative","scale":{"domain":[17.44,82.84],"nice":false,"zero":false}}}},
{"data":{"name":"rsima"},"mark":{"type":"line","clip":true,"color":"#ffe93b","strokeWidth":1.5},"encoding":{"x":{"field":"i","type":"quantitative","scale":{"domain":[0.35,165.34],"nice":false,"zero":false}},"y":{"field":"v","type":"quantitative","scale":{"domain":[17.44,82.84],"nice":false,"zero":false}}}},
{"data":{"name":"rsi"},"mark":{"type":"line","clip":true,"color":"#f97414","strokeWidth":1.3},"encoding":{"x":{"field":"i","type":"quantitative","scale":{"domain":[0.35,165.34],"nice":false,"zero":false}},"y":{"field":"v","type":"quantitative","scale":{"domain":[17.44,82.84],"nice":false,"zero":false}}}},
{"data":{"name":"tagsRsi"},"mark":{"type":"rect"},"encoding":{"x":{"datum":165.36,"type":"quantitative","scale":{"domain":[0.35,165.34],"nice":false,"zero":false}},"x2":{"datum":170.29},"y":{"field":"a","type":"quantitative","scale":{"domain":[17.44,82.84],"nice":false,"zero":false}},"y2":{"field":"z"},"color":{"condition":{"test":"datum.s=='yellow'","value":"#ffeb3b"},"value":"#ff6d00"}}},
{"data":{"name":"tagsRsi"},"mark":{"type":"text","align":"left","baseline":"middle","font":"Noto Sans","fontSize":13.3},"encoding":{"x":{"datum":166.5,"type":"quantitative","scale":{"domain":[0.35,165.34],"nice":false,"zero":false}},"y":{"field":"v","type":"quantitative","scale":{"domain":[17.44,82.84],"nice":false,"zero":false}},"text":{"field":"t"},"color":{"condition":{"test":"datum.s=='yellow'","value":"#131722"},"value":"#ffffff"}}},
{"data":{"values":[{}]},"mark":{"type":"rule","color":"#dfe3ec","strokeWidth":1},"encoding":{"x":{"datum":0.35,"type":"quantitative","scale":{"domain":[0.35,165.34],"nice":false,"zero":false}},"x2":{"datum":165.34},"y":{"datum":82.84,"type":"quantitative","scale":{"domain":[17.44,82.84],"nice":false,"zero":false}}}},
{"data":{"values":[{}]},"mark":{"type":"rule","color":"#50535e","strokeWidth":1},"encoding":{"x":{"datum":165.34,"type":"quantitative","scale":{"domain":[0.35,165.34],"nice":false,"zero":false}},"x2":{"datum":172.7},"y":{"datum":17.44,"type":"quantitative","scale":{"domain":[17.44,82.84],"nice":false,"zero":false}}}},
{"data":{"values":[{}]},"mark":{"type":"rule","color":"#50535e","strokeWidth":1},"encoding":{"x":{"datum":165.34,"type":"quantitative","scale":{"domain":[0.35,165.34],"nice":false,"zero":false}},"y":{"datum":17.44,"type":"quantitative","scale":{"domain":[17.44,82.84],"nice":false,"zero":false}},"y2":{"datum":2.1}}},
{"data":{"values":[{}]},"mark":{"type":"rule","color":"#f2f3f5","strokeWidth":2},"encoding":{"x":{"datum":0.15,"type":"quantitative","scale":{"domain":[0.35,165.34],"nice":false,"zero":false}},"y":{"datum":82.84,"type":"quantitative","scale":{"domain":[17.44,82.84],"nice":false,"zero":false}},"y2":{"datum":2.1}}},
{"data":{"values":[{}]},"mark":{"type":"rule","color":"#f2f3f5","strokeWidth":2},"encoding":{"x":{"datum":172.74,"type":"quantitative","scale":{"domain":[0.35,165.34],"nice":false,"zero":false}},"y":{"datum":82.84,"type":"quantitative","scale":{"domain":[17.44,82.84],"nice":false,"zero":false}},"y2":{"datum":2.1}}},
{"data":{"values":[{}]},"mark":{"type":"rule","color":"#f2f3f5","strokeWidth":2},"encoding":{"x":{"datum":0.15,"type":"quantitative","scale":{"domain":[0.35,165.34],"nice":false,"zero":false}},"x2":{"datum":172.74},"y":{"datum":2.1,"type":"quantitative","scale":{"domain":[17.44,82.84],"nice":false,"zero":false}}}},
{"data":{"values":[{"i":1.54,"p":-8.41}]},"mark":{"type":"point","shape":"M-1,-0.52 H-0.3 V0.52 H-0.62 V-0.02 H-1 Z M-0.2,-0.3 a0.14,0.14 0 1,0 0.28,0 a0.14,0.14 0 1,0 -0.28,0 Z M0.35,-0.52 H1 L0.55,0.52 H-0.1 Z","size":600,"filled":true,"color":"#131722","opacity":1},"encoding":{"x":{"field":"i","type":"quantitative","scale":{"domain":[0.35,165.34],"nice":false,"zero":false}},"y":{"field":"p","type":"quantitative","scale":{"domain":[17.44,82.84],"nice":false,"zero":false}}}},
{"data":{"values":[{"i":3.15,"p":-8.7,"t":"TradingView"}]},"mark":{"type":"text","align":"left","baseline":"middle","font":"Noto Sans","fontSize":15,"color":"#131722"},"encoding":{"x":{"field":"i","type":"quantitative","scale":{"domain":[0.35,165.34],"nice":false,"zero":false}},"y":{"field":"p","type":"quantitative","scale":{"domain":[17.44,82.84],"nice":false,"zero":false}},"text":{"field":"t"}}}
]}
]}
